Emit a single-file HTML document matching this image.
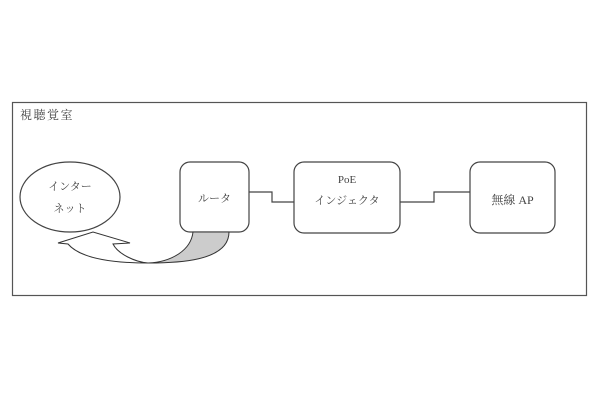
<!DOCTYPE html>
<html><head><meta charset="utf-8"><style>
body{margin:0;background:#fff;}
svg text{font-family:"Liberation Serif","Noto Serif CJK SC",serif;fill:#444;}
</style></head><body>
<svg width="600" height="400" viewBox="0 0 600 400" xmlns="http://www.w3.org/2000/svg">
<rect x="12.5" y="102.5" width="574" height="193" fill="#fff" stroke="#555" stroke-width="1.2"/>
<text x="20" y="119" font-size="12" letter-spacing="1.5">視聴覚室</text>
<ellipse cx="70" cy="197" rx="50" ry="35" fill="#fff" stroke="#444" stroke-width="1.2"/>
<text x="70" y="190" font-size="11" text-anchor="middle">インター</text>
<text x="70" y="212" font-size="11" text-anchor="middle">ネット</text>
<rect x="180" y="162" width="69" height="70" rx="10" fill="#fff" stroke="#444" stroke-width="1.2"/>
<text x="214.5" y="202" font-size="11" text-anchor="middle">ルータ</text>
<rect x="294" y="162" width="106" height="71" rx="10" fill="#fff" stroke="#444" stroke-width="1.2"/>
<text x="347" y="183" font-size="11" text-anchor="middle">PoE</text>
<text x="347" y="204" font-size="11" text-anchor="middle">インジェクタ</text>
<rect x="470" y="162" width="85" height="71" rx="10" fill="#fff" stroke="#444" stroke-width="1.2"/>
<text x="512.5" y="204" font-size="12" text-anchor="middle">無線 AP</text>
<polyline points="249,192 272,192 272,202 294,202" fill="none" stroke="#444" stroke-width="1.2"/>
<polyline points="400,202 434,202 434,192 470,192" fill="none" stroke="#444" stroke-width="1.2"/>
<path d="M193,232 C191,250 172,262 148,263 C175,263 229,262 229,232 Z" fill="#ccc" stroke="#333" stroke-width="1"/>
<path d="M148,263 C110,263 80,258 68,244 L58,243 L93,232 L130,243 L113,244 C118,254 135,262 148,263 Z" fill="#fff" stroke="#333" stroke-width="1"/>
</svg>
</body></html>
